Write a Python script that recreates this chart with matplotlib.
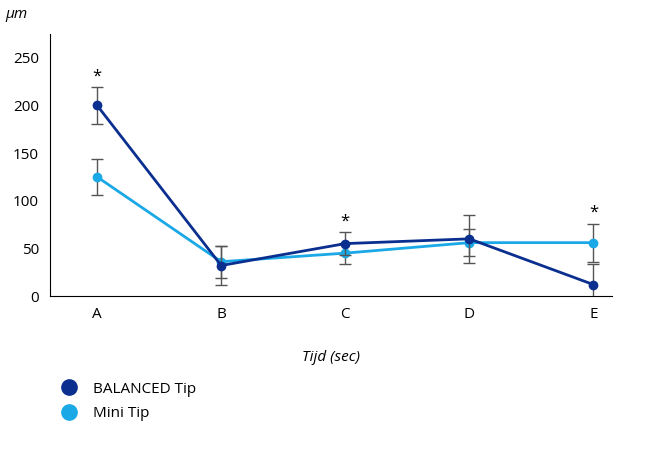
import matplotlib

matplotlib.use("Agg")
import matplotlib.pyplot as plt

plt.rcParams["font.family"] = ["Open Sans", "DejaVu Sans"]

categories = ["A", "B", "C", "D", "E"]
balanced = [200, 32, 55, 60, 12]
balanced_err = [19, 20, 12, 25, 22]
mini = [125, 36, 45, 56, 56]
mini_err = [19, 17, 11, 14, 20]
stars = [0, 2, 4]

DARK = "#0a2f8f"
LIGHT = "#1aa9e6"

fig = plt.figure(figsize=(6.56, 4.61), dpi=100)
ax = fig.add_axes([50 / 656, 1 - 296 / 461, 562 / 656, 262 / 461])
x = list(range(len(categories)))

ax.errorbar(x, mini, yerr=mini_err, color=LIGHT, ecolor="#555555", elinewidth=1,
            capsize=4, lw=2, marker="o", ms=6, label="Mini Tip", zorder=2)
ax.errorbar(x, balanced, yerr=balanced_err, color=DARK, ecolor="#555555", elinewidth=1,
            capsize=4, lw=2, marker="o", ms=6, label="BALANCED Tip", zorder=3)
for i in stars:
    top = max(balanced[i] + balanced_err[i], mini[i] + mini_err[i])
    ax.text(i, top + 3, "*", ha="center", va="bottom", fontsize=12)

ax.set_xlim(-0.38, 4.15)
ax.set_ylim(0, 275)
ax.set_xticks(x)
ax.set_xticklabels(categories)
ax.set_yticks([0, 50, 100, 150, 200, 250])
ax.tick_params(length=0, labelsize=11, pad=8)
for s in ["top", "right"]:
    ax.spines[s].set_visible(False)
ax.set_xlabel("Tijd (sec)", style="italic", fontsize=11, labelpad=20)
ax.text(-0.06, 1.06, "µm", transform=ax.transAxes, style="italic", fontsize=11, ha="center")

h, l = ax.get_legend_handles_labels()
handles = [plt.Line2D([], [], ls="", marker="o", ms=11, color=c) for c in (DARK, LIGHT)]
fig.legend(handles, ["BALANCED Tip", "Mini Tip"], loc="upper left",
           bbox_to_anchor=(40 / 656, 1 - 368 / 461), frameon=False, fontsize=11,
           handletextpad=0.6, labelspacing=0.6)

fig.savefig("out.png")
